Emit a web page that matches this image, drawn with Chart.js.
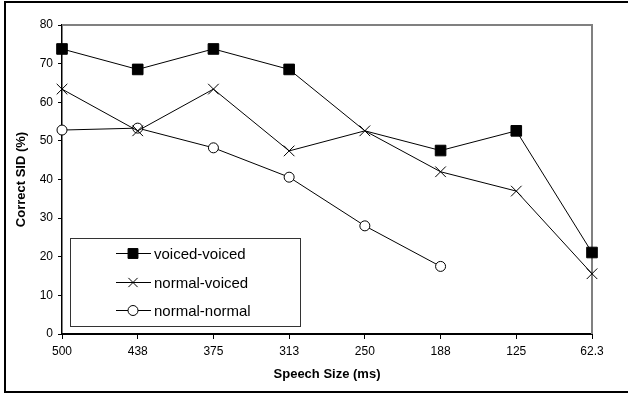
<!DOCTYPE html>
<html>
<head>
<meta charset="utf-8">
<script src="https://cdn.jsdelivr.net/npm/chart.js@4"></script>
<style>
  html, body { margin: 0; padding: 0; background: #fff; overflow: hidden; }
  canvas { display: block; }
</style>
</head>
<body>
<canvas id="sidChart" width="628" height="394"></canvas>
<script>
// speech sizes (ms), x-axis categories
const sizeLabels = ['500', '438', '375', '313', '250', '188', '125', '62.3'];

// correct SID (%) per condition
const voicedVoiced = [73.8, 68.5, 73.8, 68.5, 52.6, 47.5, 52.6, 21.1];
const normalVoiced = [63.4, 52.6, 63.4, 47.4, 52.6, 42.0, 37.0, 15.6];
const normalNormal = [52.8, 53.3, 48.2, 40.6, 28.0, 17.5, null, null];

const yTicks = [0, 10, 20, 30, 40, 50, 60, 70, 80];

const FONT = 'Liberation Sans, Arial, sans-serif';

// outer border (open on the right, as in the cropped original)
// plus the gray top/right edge of the plot area
const frames = {
    id: 'frames',
    beforeDatasetsDraw(chart) {
        const a = chart.chartArea;
        const c = chart.ctx;
        c.save();
        c.strokeStyle = '#000';
        c.lineWidth = 2;
        c.beginPath();
        c.moveTo(chart.width, 2);
        c.lineTo(5, 2);
        c.lineTo(5, 392);
        c.lineTo(chart.width, 392);
        c.stroke();
        c.strokeStyle = '#808080';
        c.beginPath();
        c.moveTo(a.left, a.top);
        c.lineTo(a.right, a.top);
        c.lineTo(a.right, a.bottom);
        c.stroke();
        c.restore();
    }
};

// legend box drawn inside the plot area
const insideLegend = {
    id: 'insideLegend',
    afterDraw(chart) {
        const c = chart.ctx;
        const x0 = 70, y0 = 238, w = 230, h = 88;
        c.save();
        c.fillStyle = '#fff';
        c.fillRect(x0, y0, w, h);
        c.strokeStyle = '#333';
        c.lineWidth = 1;
        c.strokeRect(x0 + 0.5, y0 + 0.5, w, h);
        c.font = '15px ' + FONT;
        c.textBaseline = 'middle';
        chart.data.datasets.forEach((ds, i) => {
            const y = Math.round(253 + i * 28.5) + 0.5;
            c.strokeStyle = '#000';
            c.lineWidth = 1;
            c.beginPath();
            c.moveTo(116, y);
            c.lineTo(151, y);
            c.stroke();
            c.fillStyle = ds.pointBackgroundColor;
            c.strokeStyle = '#000';
            Chart.helpers.drawPoint(c, {
                pointStyle: ds.pointStyle,
                radius: ds.legendRadius,
                borderWidth: 1
            }, 133, y);
            c.fillStyle = '#000';
            c.fillText(ds.label, 154, y + 1);
        });
        c.restore();
    }
};

const ctx = document.getElementById('sidChart').getContext('2d');

new Chart(ctx, {
    type: 'line',
    data: {
        labels: sizeLabels,
        datasets: [
            {
                label: 'voiced-voiced',
                data: voicedVoiced,
                borderColor: '#000',
                borderWidth: 1,
                pointStyle: 'rect',
                pointRadius: [7.5, 7.5, 7.5, 7.5, 0, 7.5, 7.5, 7.5],
                legendRadius: 7,
                pointBackgroundColor: '#000',
                pointBorderColor: '#000',
                pointBorderWidth: 1
            },
            {
                label: 'normal-voiced',
                data: normalVoiced,
                borderColor: '#000',
                borderWidth: 1,
                pointStyle: 'crossRot',
                pointRadius: 7.5,
                legendRadius: 6.5,
                pointBackgroundColor: '#000',
                pointBorderColor: '#000',
                pointBorderWidth: 1
            },
            {
                label: 'normal-normal',
                data: normalNormal,
                borderColor: '#000',
                borderWidth: 1,
                pointStyle: 'circle',
                pointRadius: 5,
                legendRadius: 5,
                pointBackgroundColor: '#fff',
                pointBorderColor: '#000',
                pointBorderWidth: 1,
                spanGaps: false
            }
        ]
    },
    options: {
        responsive: false,
        animation: false,
        layout: { padding: { top: 25, right: 36, left: 0, bottom: 0 } },
        plugins: {
            legend: { display: false },
            tooltip: { enabled: false }
        },
        scales: {
            x: {
                type: 'category',
                offset: false,
                afterFit: (s) => { s.height = 60; },
                grid: {
                    drawOnChartArea: false,
                    drawTicks: true,
                    tickLength: 5,
                    tickColor: '#000'
                },
                border: { color: '#000', width: 2 },
                ticks: {
                    color: '#000',
                    font: { family: FONT, size: 12 },
                    padding: 5,
                    maxRotation: 0,
                    autoSkip: false
                },
                title: {
                    display: true,
                    text: 'Speech Size (ms)',
                    color: '#000',
                    font: { family: FONT, size: 13, weight: 'bold' },
                    padding: { top: 0, bottom: 12 }
                }
            },
            y: {
                min: 0,
                max: 80,
                afterFit: (s) => { s.width = 62; },
                afterBuildTicks: (s) => { s.ticks = yTicks.map(v => ({ value: v })); },
                grid: {
                    drawOnChartArea: false,
                    drawTicks: true,
                    tickLength: 4,
                    tickColor: '#000'
                },
                border: { color: '#000', width: 1.5 },
                ticks: {
                    color: '#000',
                    font: { family: FONT, size: 12 },
                    padding: 5
                },
                title: {
                    display: true,
                    text: 'Correct SID (%)',
                    color: '#000',
                    font: { family: FONT, size: 13, weight: 'bold' },
                    padding: { top: 14, bottom: 0 }
                }
            }
        }
    },
    plugins: [frames, insideLegend]
});
</script>
</body>
</html>
